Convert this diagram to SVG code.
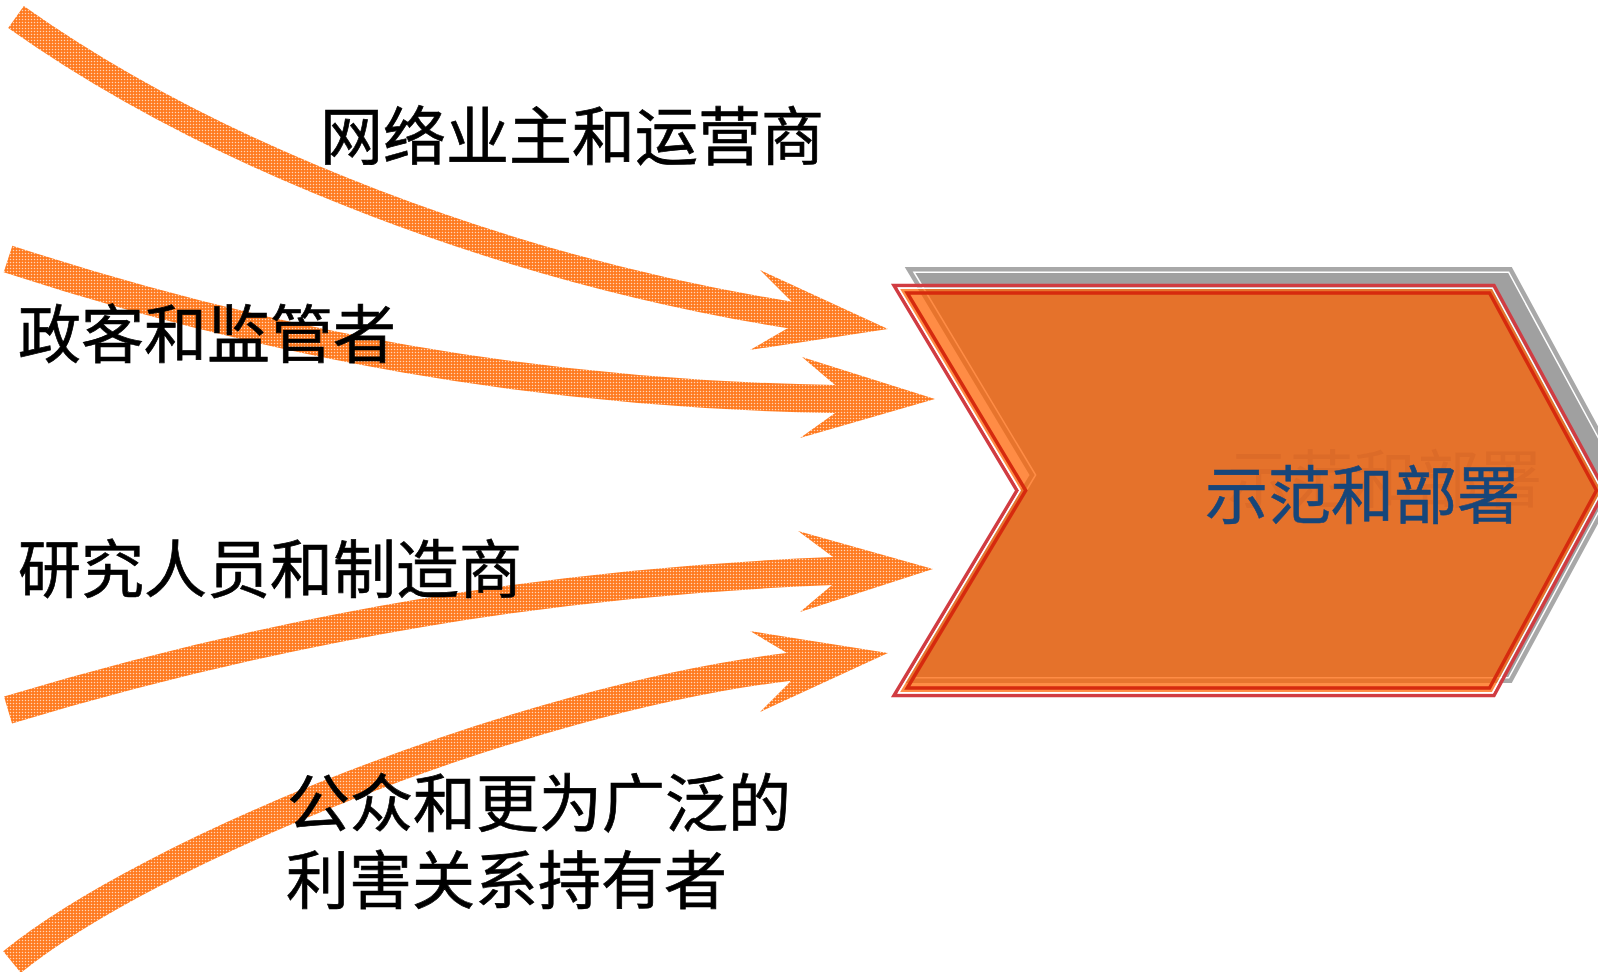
<svg xmlns="http://www.w3.org/2000/svg" width="1598" height="972" viewBox="0 0 1598 972">
  <defs>
    <pattern id="dots" width="3" height="3" patternUnits="userSpaceOnUse">
      <rect width="3" height="3" fill="#ff7a1f"/>
      <circle cx="1.5" cy="1.5" r="0.75" fill="#ffd6b8"/>
    </pattern>
    <style>
      .shaft { fill: none; stroke: url(#dots); stroke-linecap: butt; stroke-linejoin: round; }
      .head { fill: url(#dots); stroke: none; }
      .lbl { font-family: "Noto Sans CJK SC", "Noto Sans CJK TC", sans-serif; font-size: 63px; fill: #000000; stroke: #000000; stroke-width: 0.7; }
      .main { font-family: "Noto Sans CJK SC", "Noto Sans CJK TC", sans-serif; font-size: 63px; }
    </style>
  </defs>
  <rect width="1598" height="972" fill="#ffffff"/>

  <g id="connectors">
    <g id="arrow1">
      <path class="shaft" stroke-width="27" d="M16,17 C216,159 510,270 790,315 L800,316.5"/>
      <polygon class="head" points="792,302 760,270 888,329 750,350 788,328"/>
    </g>
    <g id="arrow2">
      <path class="shaft" stroke-width="28" d="M8,259 C268,344 535,394 835,399 L845,399.3"/>
      <polygon class="head" points="835,385 802,357 935,399 800,438 835,413"/>
    </g>
    <g id="arrow3">
      <path class="shaft" stroke-width="28" d="M8,710 C288,626 553,582 833,571 L843,570.6"/>
      <polygon class="head" points="833,557 798,531 933,569 800,612 832,585"/>
    </g>
    <g id="arrow4">
      <path class="shaft" stroke-width="28" d="M12,962 C150,850 520,700 788,667 L798,665.6"/>
      <polygon class="head" points="787,653 750,631 888,653 760,712 790,682"/>
    </g>
  </g>

  <g id="node-deploy">
    <polygon points="910,270 1510,270 1621,475 1510,680 910,680 1033,475" fill="#a0a0a0" stroke="#a8a8a8" stroke-width="6" stroke-linejoin="miter"/>
    <polygon points="913.97,272.25 1508.66,272.25 1618.44,475 1508.66,677.75 913.97,677.75 1035.62,475" fill="none" stroke="#ffffff" stroke-width="1.5"/>
    <polygon points="894,285.5 1494,285.5 1605,490.5 1494,695.5 894,695.5 1017,490.5" fill="none" stroke="#d13c42" stroke-width="3.5"/>
    <polygon points="898.85,288.25 1492.36,288.25 1601.87,490.5 1492.36,692.75 898.85,692.75 1020.2,490.5" fill="none" stroke="#ffffff" stroke-width="1.5"/>
    <polygon points="900.17,289 1491.91,289 1601.02,490.5 1491.91,692 900.17,692 1021.08,490.5" fill="#ff6100" fill-opacity="0.73"/>
    <polygon points="907.23,293 1489.53,293 1596.48,490.5 1489.53,688 907.23,688 1025.74,490.5" fill="none" stroke="#d62a0e" stroke-width="3.5"/>
    <text class="main" x="1227" y="502" fill="#c0501e" fill-opacity="0.22">示范和部署</text>
    <text class="main" x="1205" y="518" fill="#17467a" stroke="#17467a" stroke-width="0.6">示范和部署</text>
  </g>

  <g id="label-network">
    <text class="lbl" x="320" y="159">网络业主和运营商</text>
  </g>
  <g id="label-policy">
    <text class="lbl" x="18" y="357">政客和监管者</text>
  </g>
  <g id="label-research">
    <text class="lbl" x="18" y="592">研究人员和制造商</text>
  </g>
  <g id="label-public">
    <text class="lbl" x="287" y="826">公众和更为广泛的<tspan x="286" y="903">利害关系持有者</tspan></text>
  </g>
</svg>
